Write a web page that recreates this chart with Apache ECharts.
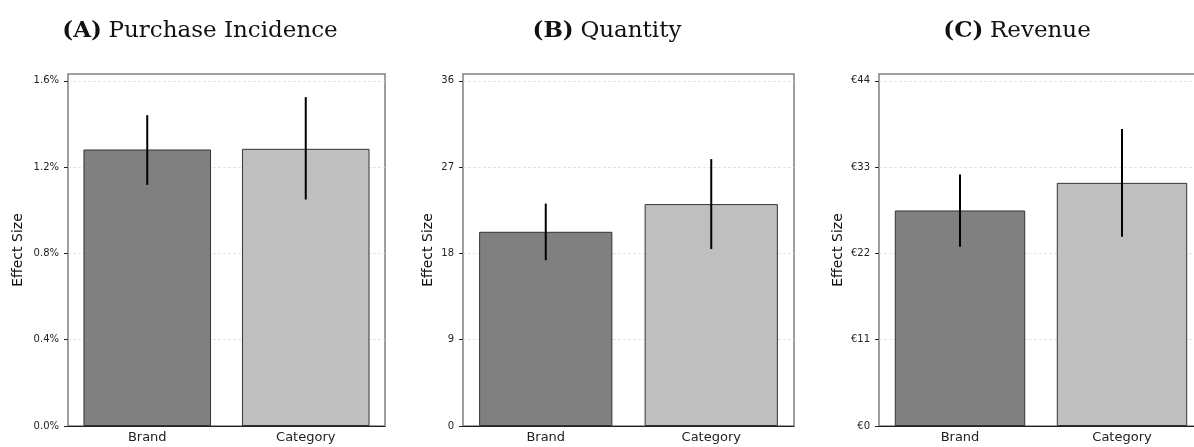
<!DOCTYPE html>
<html>
<head>
<meta charset="utf-8">
<style>
html,body{margin:0;padding:0;background:#fff;}
#chart{width:1194px;height:447px;}
</style>
<script src="https://cdn.jsdelivr.net/npm/echarts@6/dist/echarts.min.js"></script>
</head>
<body>
<div id="chart"></div>
<script>
// ---- data ----
const categories = ['Brand', 'Category'];

const incidenceValues = [1.282, 1.285];
const incidenceLow    = [1.118, 1.050];
const incidenceHigh   = [1.441, 1.525];
const incidenceTicks  = [0, 0.4, 0.8, 1.2, 1.6];

const quantityValues = [20.26, 23.15];
const quantityLow    = [17.3, 18.46];
const quantityHigh   = [23.2, 27.84];
const quantityTicks  = [0, 9, 18, 27, 36];

const revenueValues = [27.48, 31.0];
const revenueLow    = [22.84, 24.12];
const revenueHigh   = [32.06, 37.87];
const revenueTicks  = [0, 11, 22, 33, 44];

const panelTitles = [['(A)', 'Purchase Incidence'], ['(B)', 'Quantity'], ['(C)', 'Revenue']];

// ---- layout / style ----
const barColors = ['#808080', '#bfbfbf'];
const grids = [
  {left: 68, top: 74, width: 317, height: 352},
  {left: 463, top: 74, width: 331, height: 352},
  {left: 879, top: 74, width: 324, height: 352}
];
const titleX = [200, 607, 1017];
const nameGaps = [43, 28, 34];
const panels = [
  {values: incidenceValues, low: incidenceLow, high: incidenceHigh, ticks: incidenceTicks, fmt: v => v.toFixed(1) + '%'},
  {values: quantityValues, low: quantityLow, high: quantityHigh, ticks: quantityTicks, fmt: v => String(v)},
  {values: revenueValues, low: revenueLow, high: revenueHigh, ticks: revenueTicks, fmt: v => '€' + v}
];

const option = {
  animation: false,
  backgroundColor: '#fff',
  grid: grids.map(g => Object.assign({show: true, borderColor: '#808080', borderWidth: 1.5, backgroundColor: 'transparent', containLabel: false, outerBoundsMode: 'none'}, g)),
  xAxis: grids.map((g, i) => ({
    type: 'category', gridIndex: i, data: categories,
    axisLine: {lineStyle: {color: '#222', width: 1.2}},
    axisTick: {alignWithLabel: true, length: 4, lineStyle: {color: '#222'}},
    axisLabel: {color: '#222', fontFamily: 'DejaVu Sans', fontSize: 13, margin: 5},
    splitLine: {show: false}
  })),
  yAxis: panels.map((p, i) => {
    const top = p.ticks[p.ticks.length - 1];
    return {
      type: 'value', gridIndex: i, min: 0, max: top * 1.02,
      name: 'Effect Size', nameLocation: 'middle', nameGap: nameGaps[i],
      nameTextStyle: {fontFamily: 'DejaVu Sans', fontSize: 14, color: '#111'},
      axisLine: {show: false},
      axisTick: {show: true, length: 4, lineStyle: {color: '#222'}, customValues: p.ticks},
      axisLabel: {color: '#222', fontFamily: 'DejaVu Sans', fontSize: 10, margin: 9, customValues: p.ticks, formatter: p.fmt},
      splitLine: {show: true, lineStyle: {color: '#dddddd', width: 0.8, type: [3, 2]}}
    };
  }),
  graphic: panelTitles.map((t, i) => ({
    type: 'text', x: titleX[i], y: 31,
    style: {
      text: '{b|' + t[0] + '}  {n|' + t[1] + '}',
      align: 'center', verticalAlign: 'middle',
      rich: {
        b: {fontFamily: 'DejaVu Serif', fontWeight: 'bold', fontSize: 23, fill: '#111'},
        n: {fontFamily: 'DejaVu Serif', fontSize: 23, fill: '#111'}
      }
    }
  })),
  series: []
};

panels.forEach((p, i) => {
  option.series.push({
    type: 'bar', xAxisIndex: i, yAxisIndex: i, barWidth: '80.5%',
    data: p.values.map((v, j) => ({value: v, itemStyle: {color: barColors[j]}})),
    itemStyle: {borderColor: '#333', borderWidth: 1}
  });
  option.series.push({
    type: 'custom', xAxisIndex: i, yAxisIndex: i, z: 10,
    data: p.low.map((lo, j) => [j, lo, p.high[j]]),
    renderItem: function (params, api) {
      const a = api.coord([api.value(0), api.value(1)]);
      const b = api.coord([api.value(0), api.value(2)]);
      return {type: 'line', shape: {x1: a[0], y1: a[1], x2: b[0], y2: b[1]}, style: {stroke: '#000', lineWidth: 2}};
    }
  });
});

const chart = echarts.init(document.getElementById('chart'), null, {renderer: 'canvas'});
chart.setOption(option);
</script>
</body>
</html>
